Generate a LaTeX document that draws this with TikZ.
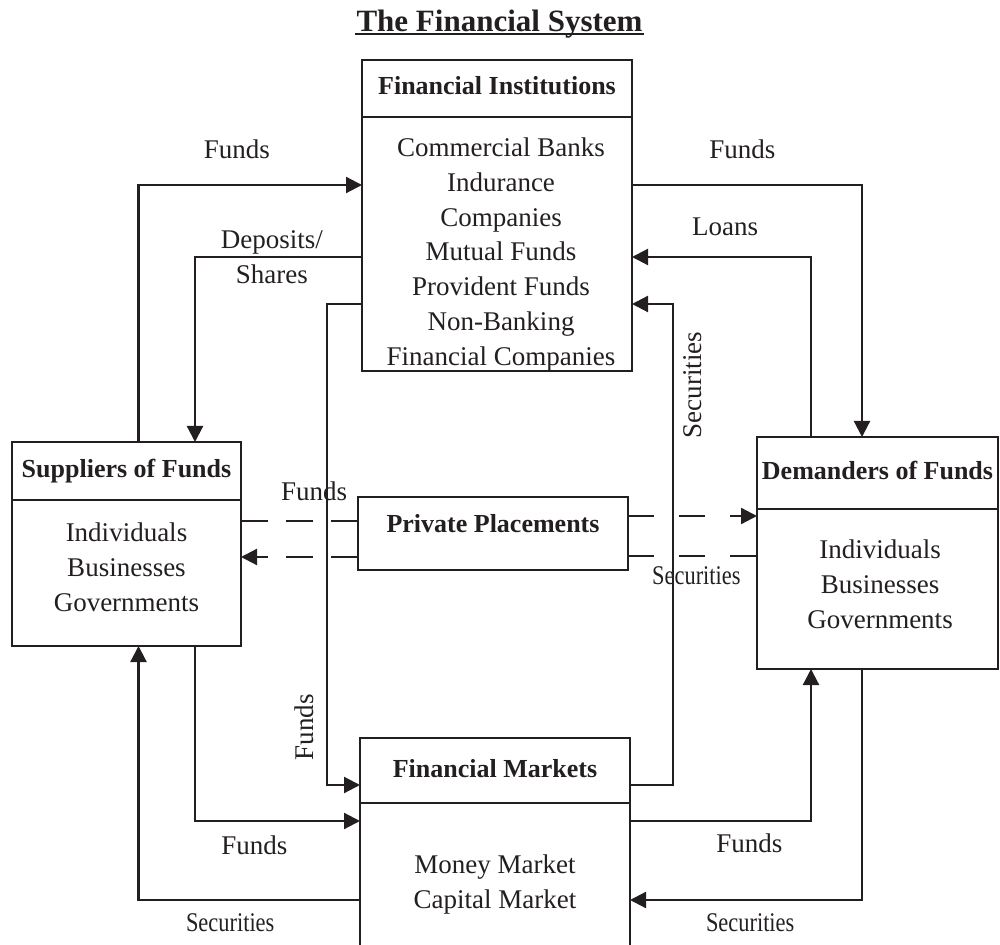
\documentclass[tikz,border=0pt]{standalone}
\usepackage{fontspec}
\setmainfont{Liberation Serif}
\newfontfamily\narrowserif[FakeStretch=0.83]{Liberation Serif}
\usepackage{tikz}
\usetikzlibrary{arrows.meta,positioning}

\definecolor{ink}{HTML}{231F20}

\begin{document}
\begin{tikzpicture}[x=0.5pt,y=-0.5pt,line width=1.1pt,color=ink,
  >={Triangle[length=8pt,width=8pt]},
  head/.style={draw,outer sep=0pt,inner sep=0pt,text height=9.1pt,text depth=2.6pt,
    font=\bfseries\fontsize{13}{15.6}\selectfont},
  body/.style={draw,outer sep=0pt},
  itemlist/.style={inner sep=0pt,align=center,font=\fontsize{13.5}{17.4}\selectfont},
  lbl/.style={inner sep=0pt,font=\fontsize{13.5}{17.5}\selectfont},
  slbl/.style={inner sep=0pt,font=\narrowserif\fontsize{13.5}{16}\selectfont},
  ppleft/.style={dash pattern=on 13.5pt off 9pt},
  ppright/.style={dash pattern=on 13pt off 12.5pt}]
\useasboundingbox (0,0) rectangle (1000,945);

% title
\node[inner sep=0pt,anchor=base,font=\bfseries\fontsize{15.5}{18}\selectfont] (title) at (499.5,31.7) {The Financial System};
\draw[line width=1pt] ([yshift=-1pt]title.base west) -- ([yshift=-1pt]title.base east);

% blocks
\node[head,minimum width=135pt,minimum height=28.5pt] (fi) at (497,88.5) {Financial Institutions};
\node[body,minimum width=135pt,minimum height=127pt,below=0pt of fi] (fib) {};
\node[itemlist,below=9.8pt of fi,xshift=2pt] (fil) {Commercial Banks\\Indurance\\Companies\\Mutual Funds\\Provident Funds\\Non-Banking\\Financial Companies};

\node[head,minimum width=114.5pt,minimum height=29pt] (sup) at (126.5,471) {Suppliers of Funds};
\node[body,minimum width=114.5pt,minimum height=73pt,below=0pt of sup] (supb) {};
\node[itemlist,below=10.8pt of sup] (supl) {Individuals\\Businesses\\Governments};

\node[head,minimum width=120.5pt,minimum height=36pt] (dem) at (877.5,473) {Demanders of Funds};
\node[body,minimum width=120.5pt,minimum height=80pt,below=0pt of dem] (demb) {};
\node[itemlist,below=14.8pt of dem,xshift=1.25pt] (deml) {Individuals\\Businesses\\Governments};

\node[head,minimum width=135pt,minimum height=36.5pt,text depth=9.6pt] (pp) at (493,533.5) {Private Placements};

\node[head,minimum width=135pt,minimum height=32.5pt] (fm) at (495,770.5) {Financial Markets};
\node[body,minimum width=135pt,minimum height=90pt,below=0pt of fm] (fmb) {};
\node[itemlist,below=25.3pt of fm] (fml) {Money Market\\Capital Market};

% flows round the institutions
\draw[->] ([xshift=6pt]sup.north) |- node[lbl,above=12.5pt,pos=0.72] {Funds} ([yshift=29.5pt]fib.west);
\draw[->] ([yshift=-6.5pt]fib.west) -| node[lbl,align=center,pos=0.27] {Deposits/\\Shares} ([xshift=34.25pt]sup.north);
\draw[->] ([yshift=-30pt]fib.west) -- ++(-17.5pt,0) |- node[lbl,rotate=90,anchor=south,inner sep=6pt,pos=0.44] {Funds} ([yshift=-7.25pt]fm.west);
\draw[->] ([yshift=29.5pt]fib.east) -| node[lbl,above=12.5pt,pos=0.24] {Funds} ([xshift=-7.75pt]dem.north);
\draw[->] ([xshift=-33.25pt]dem.north) |- node[lbl,above=10pt,pos=0.74] {Loans} ([yshift=-6.5pt]fib.east);
\draw[->] ([yshift=-7.25pt]fm.east) -- ++(21.5pt,0) |- node[lbl,rotate=90,anchor=north,inner sep=5pt,pos=0.416] {Securities} ([yshift=-30pt]fib.east);

% flows round the markets
\draw[->] ([xshift=34.25pt]supb.south) |- node[lbl,below=7pt,pos=0.68] {Funds} ([yshift=-9pt]fmb.north west);
\draw[->] ([yshift=-48.5pt]fmb.north west) -| node[slbl,below=6.5pt,pos=0.293] {Securities} ([xshift=6pt]supb.south);
\draw[->] ([yshift=-9pt]fmb.north east) -| node[lbl,below=5.7pt,pos=0.33] {Funds} ([xshift=-33.25pt]demb.south);
\draw[->] ([xshift=-7.75pt]demb.south) |- node[slbl,below=6.5pt,pos=0.741] {Securities} ([yshift=-48.5pt]fmb.north east);

% private placements
\draw[ppleft] ([yshift=26pt]supb.east) -- node[lbl,above=9.5pt,pos=0.624] {Funds} ([yshift=6.25pt]pp.west);
\draw[ppleft,->] ([yshift=-11.75pt]pp.west) -- ([yshift=8pt]supb.east);
\draw[ppright,->] ([yshift=8.75pt]pp.east) -- ([yshift=36.5pt]demb.west);
\draw[ppright] ([yshift=-11.25pt]pp.east) -- node[slbl,below=5pt,pos=0.53] {Securities} ([yshift=16.5pt]demb.west);
\end{tikzpicture}
\end{document}
